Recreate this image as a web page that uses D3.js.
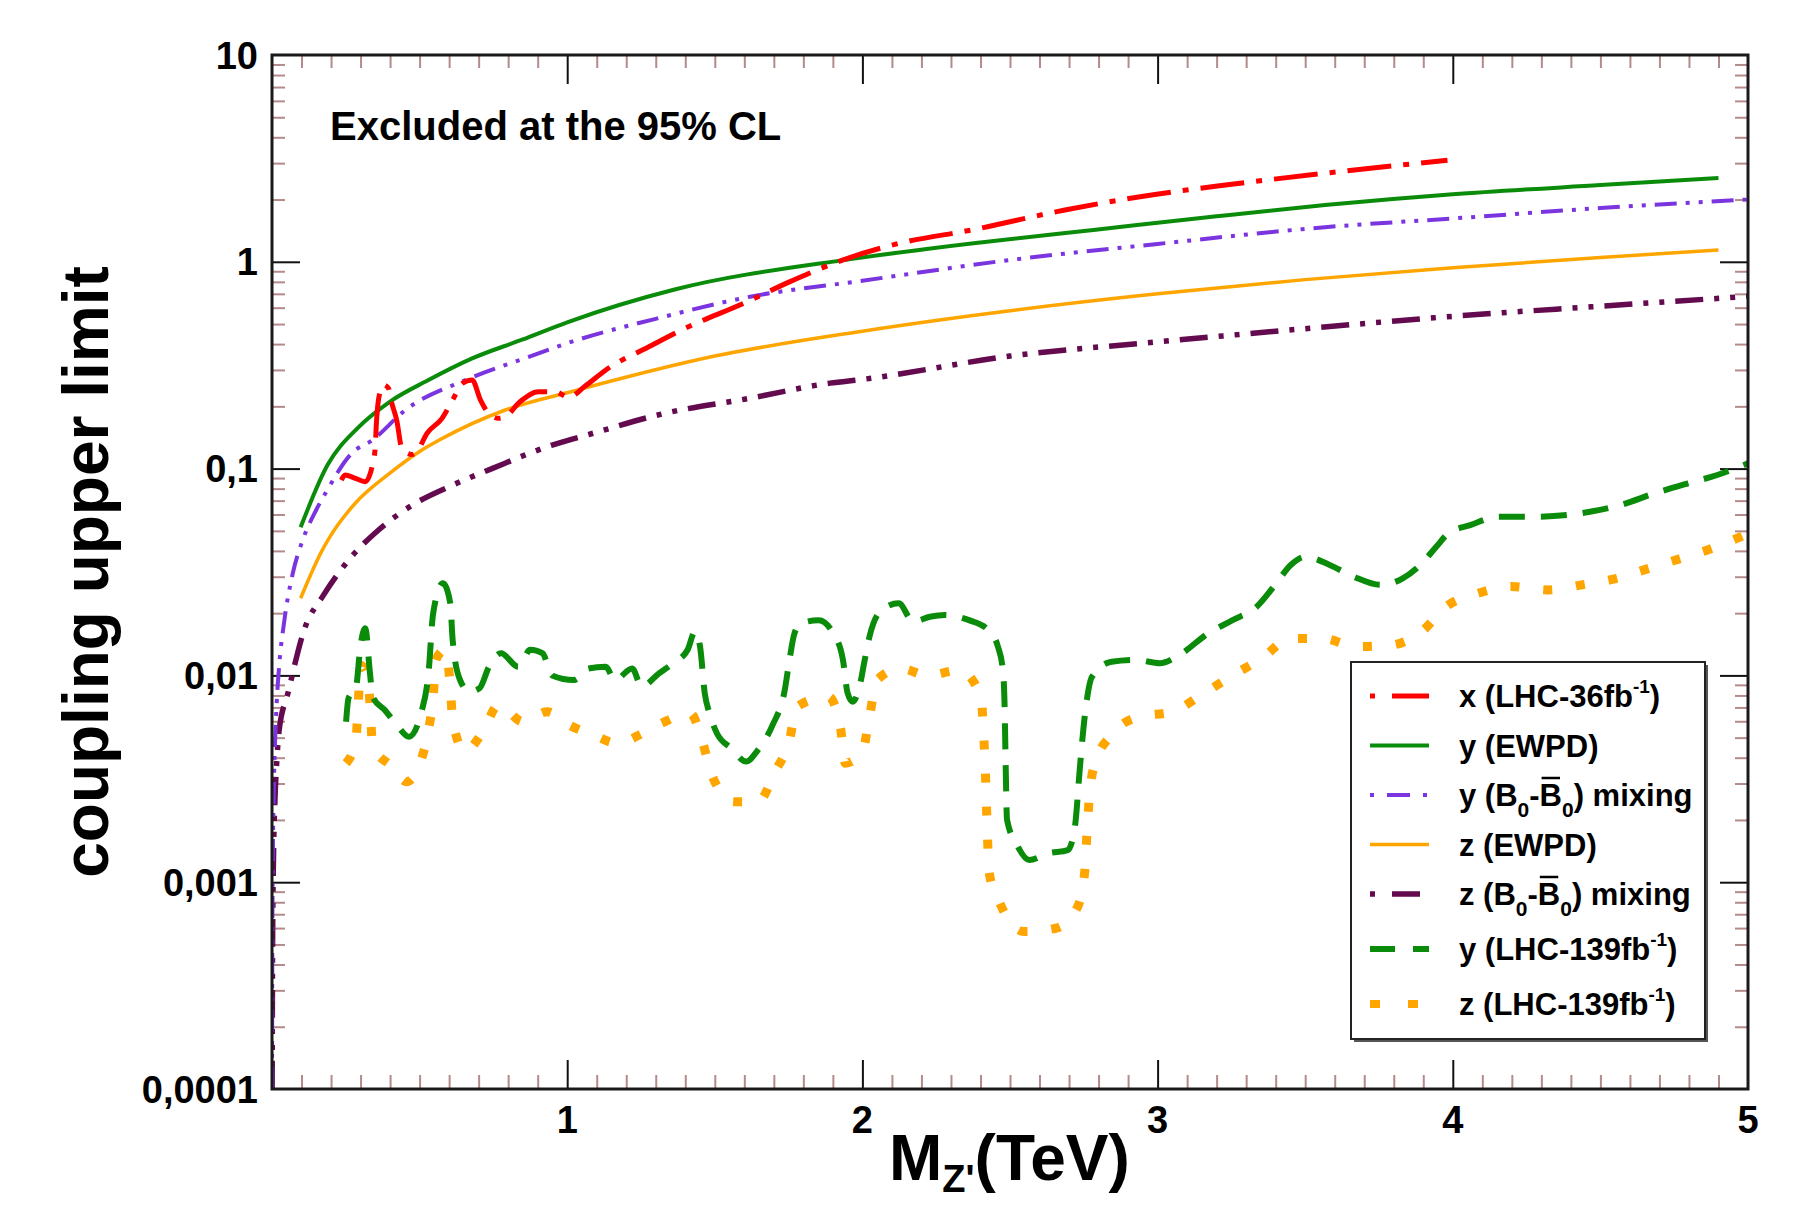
<!DOCTYPE html>
<html><head><meta charset="utf-8">
<script src="https://cdn.jsdelivr.net/npm/d3@7"></script>
<style>
html,body{margin:0;padding:0;background:#fff;}
svg{display:block;}
text{font-family:"Liberation Sans",Arial,Helvetica,sans-serif;font-weight:bold;fill:#000;}
</style>
</head><body>
<svg id="chart" width="1803" height="1207"></svg>
<script>
// ---------------- DATA ----------------
const xTicks = [1, 2, 3, 4, 5];
const xTickLabels = ["1", "2", "3", "4", "5"];
const yTicks = [10, 1, 0.1, 0.01, 0.001, 0.0001];
const yTickLabels = ["10", "1", "0,1", "0,01", "0,001", "0,0001"];

const seriesNames = [
  "x (LHC-36fb-1)", "y (EWPD)", "y (B0-B0) mixing", "z (EWPD)",
  "z (B0-B0) mixing", "y (LHC-139fb-1)", "z (LHC-139fb-1)"
];

// x (LHC-36fb^-1)
const xLHC36_M = [0.235,0.248,0.28,0.316,0.339,0.35,0.353,0.358,0.366,0.378,0.395,0.403,0.423,0.44,0.474,0.491,0.525,0.576,0.615,0.644,0.678,0.706,0.734,0.768,0.79,0.841,0.903,0.96,1.005,1.06,1.131,1.287,1.39,1.598,1.753,1.95,2.116,2.375,2.686,2.946,3.23,3.567,3.982];
const xLHC36_v = [0.088,0.093,0.090,0.0865,0.102,0.128,0.16,0.2,0.235,0.254,0.244,0.215,0.17,0.125,0.117,0.121,0.148,0.175,0.219,0.258,0.268,0.215,0.185,0.175,0.178,0.211,0.235,0.235,0.221,0.25,0.30,0.395,0.47,0.63,0.80,1.04,1.22,1.43,1.78,2.07,2.35,2.68,3.1];

// y (EWPD)
const yEWPD_M = [0.097,0.188,0.29,0.40,0.53,0.678,0.847,1.0,1.364,1.96,2.4,2.79,3.2,3.567,4.0,4.5,4.9];
const yEWPD_v = [0.052,0.104,0.157,0.211,0.268,0.341,0.42,0.51,0.735,1.03,1.24,1.43,1.66,1.88,2.12,2.35,2.54];

// y (B0-B0bar) mixing
const yMix_M = [0.0002,0.001,0.003,0.006,0.01,0.016,0.024,0.042,0.07,0.102,0.147,0.181,0.271,0.339,0.452,0.655,0.87,1.016,1.3,1.62,2.0,2.5,3.0,3.567,4.0,4.5,5.0];
const yMix_v = [0.0001,0.0005,0.0014,0.0028,0.0046,0.0074,0.011,0.0185,0.031,0.0443,0.062,0.076,0.119,0.137,0.192,0.268,0.347,0.411,0.53,0.678,0.81,1.02,1.22,1.47,1.62,1.82,2.0];

// z (EWPD)
const zEWPD_M = [0.097,0.169,0.193,0.282,0.395,0.508,0.565,0.79,1.016,1.5,2.0,2.5,3.0,3.5,4.0,4.5,4.9];
const zEWPD_v = [0.0236,0.040,0.046,0.068,0.094,0.123,0.137,0.192,0.236,0.35,0.462,0.58,0.70,0.82,0.935,1.05,1.14];

// z (B0-B0bar) mixing
const zMix_M = [0.0005,0.002,0.005,0.01,0.016,0.024,0.054,0.109,0.175,0.266,0.361,0.486,0.61,0.745,0.949,1.079,1.33,1.62,1.89,2.0,2.5,3.0,3.5,4.0,4.5,5.0];
const zMix_v = [0.0001,0.0005,0.0013,0.0025,0.0038,0.0054,0.0082,0.0166,0.0245,0.037,0.0505,0.068,0.083,0.10,0.13,0.147,0.185,0.219,0.259,0.27,0.35,0.41,0.475,0.545,0.61,0.68];

// y (LHC-139fb^-1)
const y139_M = [0.251,0.259,0.284,0.300,0.316,0.332,0.341,0.382,0.423,0.464,0.505,0.530,0.546,0.579,0.604,0.612,0.637,0.670,0.703,0.735,0.776,0.834,0.875,0.916,0.949,1.023,1.072,1.130,1.162,1.220,1.252,1.310,1.359,1.408,1.433,1.450,1.466,1.482,1.507,1.556,1.606,1.646,1.696,1.737,1.753,1.770,1.794,1.852,1.901,1.934,1.950,1.967,1.990,2.008,2.024,2.065,2.123,2.172,2.229,2.279,2.361,2.426,2.459,2.476,2.482,2.485,2.490,2.524,2.565,2.630,2.696,2.720,2.737,2.753,2.778,2.844,2.926,3.008,3.074,3.172,3.254,3.336,3.402,3.451,3.501,3.583,3.665,3.755,3.829,3.895,3.944,3.985,4.059,4.157,4.272,4.387,4.469,4.568,4.683,4.797,4.896,5.000];
const y139_v = [0.00597,0.00774,0.00866,0.0140,0.0169,0.0102,0.0079,0.0068,0.00576,0.00505,0.00656,0.0102,0.020,0.0279,0.0223,0.0148,0.0095,0.00834,0.00866,0.0110,0.0128,0.0110,0.0133,0.0128,0.0100,0.0095,0.0108,0.0110,0.0095,0.0108,0.00883,0.0102,0.01146,0.0133,0.0163,0.0138,0.00818,0.00656,0.00525,0.00444,0.00383,0.00436,0.00576,0.0085,0.0119,0.0160,0.0179,0.0185,0.0160,0.0119,0.0082,0.00746,0.0088,0.0119,0.0154,0.0207,0.0223,0.0182,0.0192,0.0196,0.0185,0.0166,0.0138,0.0106,0.0068,0.0039,0.0020,0.00151,0.00128,0.00138,0.00143,0.00186,0.00362,0.0063,0.00986,0.01165,0.0119,0.01146,0.01256,0.0160,0.0185,0.0215,0.0279,0.0342,0.0375,0.0342,0.0300,0.0274,0.0294,0.0348,0.0419,0.0486,0.0533,0.0585,0.0585,0.0597,0.0620,0.0667,0.0759,0.0849,0.0931,0.106];

// z (LHC-139fb^-1)
const z139_M = [0.251,0.284,0.292,0.300,0.325,0.333,0.341,0.407,0.456,0.505,0.530,0.546,0.555,0.587,0.604,0.612,0.653,0.711,0.768,0.850,0.932,1.006,1.088,1.170,1.244,1.318,1.417,1.458,1.490,1.564,1.647,1.704,1.753,1.778,1.885,1.926,1.942,2.000,2.024,2.049,2.131,2.221,2.328,2.402,2.410,2.416,2.420,2.430,2.466,2.548,2.655,2.729,2.753,2.760,2.768,2.786,2.844,2.934,3.049,3.156,3.254,3.353,3.451,3.558,3.673,3.788,3.895,3.977,4.084,4.199,4.322,4.437,4.552,4.666,4.773,4.880,4.990];
const z139_v = [0.00376,0.00487,0.0072,0.0112,0.00986,0.0068,0.00452,0.00362,0.00306,0.0039,0.00544,0.00789,0.0119,0.0133,0.00883,0.00608,0.00428,0.00525,0.0072,0.00597,0.00667,0.00576,0.00515,0.0047,0.00515,0.00586,0.00656,0.00479,0.0033,0.00245,0.00245,0.00342,0.00487,0.00706,0.00789,0.00555,0.00376,0.00428,0.0063,0.0095,0.0108,0.0100,0.0106,0.00789,0.00535,0.00362,0.0024,0.0011,0.00079,0.000577,0.000599,0.00076,0.00112,0.00166,0.0025,0.00369,0.00515,0.0063,0.00667,0.00818,0.0100,0.0121,0.0151,0.0151,0.0138,0.0140,0.0163,0.0215,0.0249,0.0269,0.0259,0.0274,0.0294,0.0330,0.0368,0.0412,0.0478];

// ---------------- CHART ----------------
const svg = d3.select("#chart");
const X0 = 272, X1 = 1748, Y0 = 1089, Y1 = 55;
const x = d3.scaleLinear().domain([0, 5]).range([X0, X1]);
const y = d3.scaleLog().domain([1e-4, 10]).range([Y0, Y1]);

svg.append("defs").append("clipPath").attr("id", "plotclip")
  .append("rect").attr("x", X0).attr("y", Y1).attr("width", X1 - X0).attr("height", Y0 - Y1);

// minor / major tick values
const xMinor = d3.range(1, 50).map(i => i / 10).filter(v => Math.abs(v - Math.round(v)) > 1e-6);
const yMinor = [];
for (let d = -4; d < 1; d++) for (let k = 2; k <= 9; k++) yMinor.push(k * Math.pow(10, d));
const minorColor = "#b48a8a";

function styleAxis(g, color, w) {
  g.select(".domain").remove();
  g.selectAll(".tick line").attr("stroke", color).attr("stroke-width", w);
  g.selectAll(".tick text").remove();
}
svg.append("g").attr("transform", `translate(0,${Y0})`)
  .call(d3.axisTop(x).tickValues(xMinor).tickSize(14).tickFormat(""))
  .call(g => styleAxis(g, minorColor, 2));
svg.append("g").attr("transform", `translate(0,${Y1})`)
  .call(d3.axisBottom(x).tickValues(xMinor).tickSize(13).tickFormat(""))
  .call(g => styleAxis(g, minorColor, 2));
svg.append("g").attr("transform", `translate(${X0},0)`)
  .call(d3.axisRight(y).tickValues(yMinor).tickSize(13).tickFormat(""))
  .call(g => styleAxis(g, minorColor, 2));
svg.append("g").attr("transform", `translate(${X1},0)`)
  .call(d3.axisLeft(y).tickValues(yMinor).tickSize(13).tickFormat(""))
  .call(g => styleAxis(g, minorColor, 2));
const xMajorIn = xTicks.filter(v => v < 5);
svg.append("g").attr("transform", `translate(0,${Y0})`)
  .call(d3.axisTop(x).tickValues(xMajorIn).tickSize(29).tickFormat(""))
  .call(g => styleAxis(g, "#111", 2));
svg.append("g").attr("transform", `translate(0,${Y1})`)
  .call(d3.axisBottom(x).tickValues(xMajorIn).tickSize(29).tickFormat(""))
  .call(g => styleAxis(g, "#111", 2));
const yMajorIn = yTicks.filter(v => v < 10 && v > 1e-4);
svg.append("g").attr("transform", `translate(${X0},0)`)
  .call(d3.axisRight(y).tickValues(yMajorIn).tickSize(28).tickFormat(""))
  .call(g => styleAxis(g, "#111", 2));
svg.append("g").attr("transform", `translate(${X1},0)`)
  .call(d3.axisLeft(y).tickValues(yMajorIn).tickSize(28).tickFormat(""))
  .call(g => styleAxis(g, "#111", 2));

// tick labels
svg.append("g").selectAll("text").data(xTicks).join("text")
  .attr("x", d => x(d)).attr("y", Y0 + 44)
  .attr("text-anchor", "middle").attr("font-size", 38)
  .text((d, i) => xTickLabels[i]);
svg.append("g").selectAll("text").data(yTicks).join("text")
  .attr("x", X0 - 14).attr("y", d => y(d)).attr("dy", "0.36em")
  .attr("text-anchor", "end").attr("font-size", 38)
  .text((d, i) => yTickLabels[i]);

// series
const series = [
  {M: xLHC36_M, v: xLHC36_v, color: "#ff0000", w: 5, dash: "44,12,6,12"},
  {M: yEWPD_M, v: yEWPD_v, color: "#0a8c0a", w: 4, dash: null},
  {M: yMix_M, v: yMix_v, color: "#7b35e0", w: 4, dash: "22,9,4,9,4,9"},
  {M: zEWPD_M, v: zEWPD_v, color: "#ffa500", w: 3.5, dash: null},
  {M: zMix_M, v: zMix_v, color: "#640a4e", w: 5.5, dash: "28,11,5,11,5,11"},
  {M: y139_M, v: y139_v, color: "#0a8c0a", w: 6, dash: "26,16"},
  {M: z139_M, v: z139_v, color: "#ffa500", w: 9, dash: "9,24"}
];
const lineGen = d3.line().x(d => x(d[0])).y(d => y(d[1])).curve(d3.curveMonotoneX);
const plot = svg.append("g").attr("clip-path", "url(#plotclip)");
[6, 5, 4, 3, 2, 1, 0].forEach(i => {
  const s = series[i];
  plot.append("path")
    .attr("d", lineGen(s.M.map((m, j) => [m, s.v[j]])))
    .attr("fill", "none").attr("stroke", s.color).attr("stroke-width", s.w)
    .attr("stroke-dasharray", s.dash).attr("stroke-linejoin", "round");
});

// frame
svg.append("rect").attr("x", X0).attr("y", Y1).attr("width", X1 - X0).attr("height", Y0 - Y1)
  .attr("fill", "none").attr("stroke", "#1a1a1a").attr("stroke-width", 3);

// annotation
svg.append("text").attr("x", 330).attr("y", 140).attr("font-size", 40).text("Excluded at the 95% CL");

// axis titles
const xt = svg.append("text").attr("x", 889).attr("y", 1180).attr("font-size", 64);
xt.append("tspan").text("M");
xt.append("tspan").attr("font-size", 38).attr("dy", 12).text("Z'");
xt.append("tspan").attr("dy", -12).text("(TeV)");

svg.append("text").attr("transform", `translate(108,${(Y0 + Y1) / 2}) rotate(-90)`)
  .attr("text-anchor", "middle").attr("font-size", 64).text("coupling upper limit");

// legend
const LX = 1351, LY = 662, LW = 354, LH = 377;
svg.append("rect").attr("x", LX + 3).attr("y", LY + 3).attr("width", LW).attr("height", LH).attr("fill", "#555");
svg.append("rect").attr("x", LX).attr("y", LY).attr("width", LW).attr("height", LH)
  .attr("fill", "#fff").attr("stroke", "#222").attr("stroke-width", 2);

const legendParts = [
  [["x (LHC-36fb","n"],["-1","sup"],[")","n"]],
  [["y (EWPD)","n"]],
  [["y (B","n"],["0","sub"],["-","n"],["B","bar"],["0","sub"],[") mixing","n"]],
  [["z (EWPD)","n"]],
  [["z (B","n"],["0","sub"],["-","n"],["B","bar"],["0","sub"],[") mixing","n"]],
  [["y (LHC-139fb","n"],["-1","sup"],[")","n"]],
  [["z (LHC-139fb","n"],["-1","sup"],[")","n"]]
];
const legendDash = ["5,17,37,200", null, "4,13,23,13,4,200", null, "5,17,28,200", "25,18,16,200", "10,28,10,200"];
const fs = 31;
legendParts.forEach((parts, i) => {
  const cy = i < 5 ? 696 + i * 49.5 : 949 + (i - 5) * 55;
  const s = series[i];
  svg.append("line").attr("x1", 1370).attr("x2", 1429).attr("y1", cy).attr("y2", cy)
    .attr("stroke", s.color).attr("stroke-width", Math.min(s.w, 8))
    .attr("stroke-dasharray", legendDash[i]);
  const t = svg.append("text").attr("x", 1459).attr("y", cy + 11).attr("font-size", fs);
  let shift = 0, idx = 0; const bars = [];
  parts.forEach(([str, kind]) => {
    let target = 0, size = fs;
    if (kind === "sup") { target = -14; size = 19; }
    if (kind === "sub") { target = 11; size = 21; }
    t.append("tspan").attr("font-size", size).attr("dy", target - shift).text(str);
    shift = target;
    if (kind === "bar") bars.push(idx);
    idx += str.length;
  });
  bars.forEach(ci => {
    const ext = t.node().getExtentOfChar(ci);
    svg.append("line").attr("x1", ext.x + 2).attr("x2", ext.x + ext.width - 2)
      .attr("y1", cy + 11 - 28).attr("y2", cy + 11 - 28)
      .attr("stroke", "#000").attr("stroke-width", 2.5);
  });
});
</script>
</body></html>
